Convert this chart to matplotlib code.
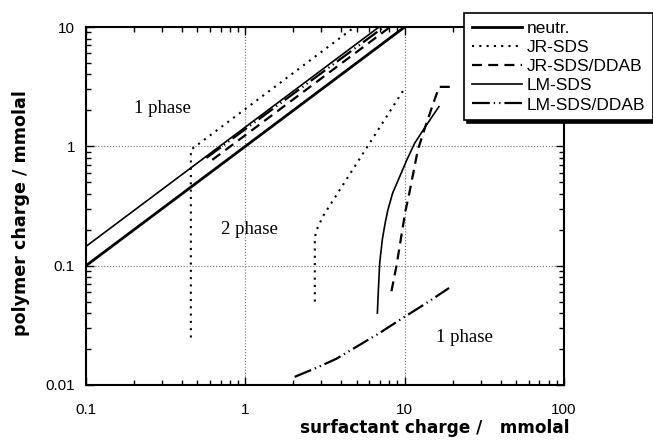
import matplotlib
matplotlib.use("Agg")
import matplotlib.pyplot as plt
from matplotlib.lines import Line2D
from matplotlib.ticker import FixedLocator, FixedFormatter

# phase boundaries (surfactant charge, polymer charge in mmolal)
neutr_x = [0.1, 10]
neutr_y = [0.1, 10]

jr_sds_up_x = [0.455, 0.455, 4.85]
jr_sds_up_y = [0.025, 0.935, 10]
jr_sds_lo_x = [2.73, 2.73, 2.76, 2.85, 3.1, 9.9]
jr_sds_lo_y = [0.05, 0.165, 0.185, 0.21, 0.265, 3.0]

jr_dd_up_x = [0.62, 8.1]
jr_dd_up_y = [0.77, 10]
jr_dd_lo_x = [8.26, 8.87, 10.1, 10.7, 12.1, 13.7, 15.6, 16.5, 19.5]
jr_dd_lo_y = [0.061, 0.0986, 0.285, 0.406, 0.935, 1.56, 2.58, 3.15, 3.15]

lm_sds_up_x = [0.1, 6.9]
lm_sds_up_y = [0.145, 10]
lm_sds_lo_x = [6.74, 6.84, 6.97, 7.24, 7.55, 7.85, 8.41, 9.31, 10.35, 11.56, 13.8, 16.4]
lm_sds_lo_y = [0.040, 0.063, 0.105, 0.166, 0.229, 0.294, 0.407, 0.558, 0.776, 1.064, 1.53, 2.15]

lm_dd_up_x = [0.57, 7.4]
lm_dd_up_y = [0.8, 10]
lm_dd_lo_x = [2.04, 2.82, 3.73, 5.13, 6.97, 9.75, 13.5, 19.0]
lm_dd_lo_y = [0.0117, 0.0140, 0.0166, 0.0214, 0.0273, 0.0365, 0.048, 0.065]

x_ticks = [0.1, 1, 10, 100]
x_labels = ["0.1", "1", "10", "100"]
y_ticks = [0.01, 0.1, 1, 10]
y_labels = ["0.01", "0.1", "1", "10"]

legend_labels = ["neutr.", "JR-SDS", "JR-SDS/DDAB", "LM-SDS", "LM-SDS/DDAB"]

sans = "Liberation Sans"
serif = "Liberation Serif"

styles = {
    "neutr.": dict(color="black", lw=2.0, ls="-"),
    "JR-SDS": dict(color="black", lw=1.5, ls=(0, (1, 2.5))),
    "JR-SDS/DDAB": dict(color="black", lw=1.6, ls=(0, (4.5, 2.8))),
    "LM-SDS": dict(color="black", lw=1.2, ls="-"),
    "LM-SDS/DDAB": dict(color="black", lw=1.6,
                        ls=(0, (8, 1.8, 0.6, 1.8, 0.6, 1.8))),
}


def main():
    fig = plt.figure(figsize=(6.53, 4.45), dpi=100)
    ax = fig.add_axes([86 / 653, 1 - 385 / 445, 478 / 653, 358 / 445])

    ax.plot(neutr_x, neutr_y, **styles["neutr."])
    ax.plot(jr_sds_up_x, jr_sds_up_y, **styles["JR-SDS"])
    ax.plot(jr_sds_lo_x, jr_sds_lo_y, **styles["JR-SDS"])
    ax.plot(jr_dd_up_x, jr_dd_up_y, **styles["JR-SDS/DDAB"])
    ax.plot(jr_dd_lo_x, jr_dd_lo_y, **styles["JR-SDS/DDAB"])
    ax.plot(lm_sds_up_x, lm_sds_up_y, **styles["LM-SDS"])
    ax.plot(lm_sds_lo_x, lm_sds_lo_y, **styles["LM-SDS"])
    ax.plot(lm_dd_up_x, lm_dd_up_y, **styles["LM-SDS/DDAB"])
    ax.plot(lm_dd_lo_x, lm_dd_lo_y, **styles["LM-SDS/DDAB"])

    ax.set_xscale("log")
    ax.set_yscale("log")
    ax.set_xlim(0.1, 100)
    ax.set_ylim(0.01, 10)

    ax.xaxis.set_major_locator(FixedLocator(x_ticks))
    ax.xaxis.set_major_formatter(FixedFormatter(x_labels))
    ax.yaxis.set_major_locator(FixedLocator(y_ticks))
    ax.yaxis.set_major_formatter(FixedFormatter(y_labels))

    ax.tick_params(which="both", direction="in", top=True, right=True,
                   width=1, labelsize=11)
    ax.tick_params(which="major", length=6)
    ax.tick_params(which="minor", length=3.5)
    ax.tick_params(axis="x", pad=13)
    ax.tick_params(axis="y", pad=8)
    for lab in ax.get_xticklabels() + ax.get_yticklabels():
        lab.set_fontfamily(sans)

    ax.grid(True, which="major", ls=":", color="0.45", lw=0.8)
    ax.set_axisbelow(True)
    for sp in ax.spines.values():
        sp.set_linewidth(1.5)

    ax.text(0.30, 2.06, "1 phase", family=serif, fontsize=13.5,
            ha="center", va="center")
    ax.text(1.06, 0.2, "2 phase", family=serif, fontsize=13.5,
            ha="center", va="center")
    ax.text(23.8, 0.025, "1 phase", family=serif, fontsize=13.5,
            ha="center", va="center")

    fig.text(570 / 653, 1 - 428 / 445, "surfactant charge /   mmolal",
             family="DejaVu Sans", fontsize=12.2, fontweight="bold",
             ha="right", va="center")
    fig.text(21 / 653, 1 - 213 / 445, "polymer charge / mmolal",
             family="DejaVu Sans", fontsize=12.6, fontweight="bold",
             ha="center", va="center", rotation=90)

    handles = [Line2D([], [], **styles[k]) for k in legend_labels]
    leg = fig.legend(handles, legend_labels, loc="upper left",
                     bbox_to_anchor=(464 / 653, 1 - 13 / 445),
                     bbox_transform=fig.transFigure,
                     prop={"family": sans, "size": 12.5},
                     frameon=True, fancybox=False,
                     shadow={"color": "black", "alpha": 1},
                     borderaxespad=0, borderpad=0.45, labelspacing=0.23,
                     handlelength=2.9, handletextpad=0.25)
    leg.get_frame().set_edgecolor("black")
    leg.get_frame().set_linewidth(1.2)

    fig.savefig("out.png", dpi=100)


if __name__ == "__main__":
    main()
